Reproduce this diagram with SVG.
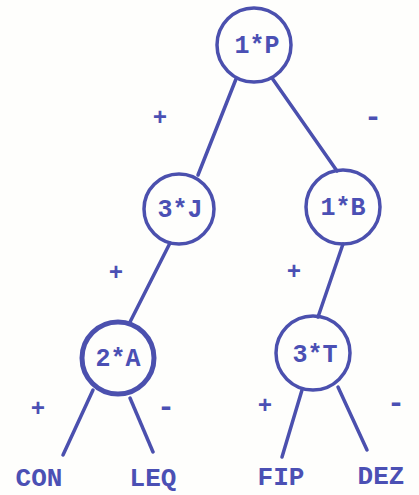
<svg xmlns="http://www.w3.org/2000/svg" width="419" height="495" viewBox="0 0 419 495">
  <style>
    .node circle { fill: none; stroke: #4b50ae; stroke-width: 3.5; }
    .node text, .leaf, .sign { font-family: "Liberation Mono", "DejaVu Sans Mono", monospace; font-weight: bold; fill: #4b50b4; text-anchor: middle; }
    .node text { font-size: 25px; }
    .leaf { font-size: 26px; }
    .sign { font-size: 24px; }
    .minus { font-size: 30px; }
    #edges line { stroke: #4b50ae; stroke-width: 3.5; stroke-linecap: round; }
  </style>
  <rect width="419" height="495" fill="#fefefc"/>

  <!-- tree edges -->
  <g id="edges">
    <line x1="236" y1="79" x2="198" y2="175"/>
    <line x1="272" y1="78" x2="337" y2="171"/>
    <line x1="170" y1="243" x2="129" y2="324"/>
    <line x1="343" y1="244" x2="318" y2="317"/>
    <line x1="93" y1="390" x2="63" y2="455"/>
    <line x1="130" y1="398" x2="153" y2="452"/>
    <line x1="302" y1="390" x2="282" y2="457"/>
    <line x1="338" y1="387" x2="367" y2="450"/>
  </g>

  <!-- branch signs -->
  <g id="signs">
    <text class="sign" x="160" y="125">+</text>
    <text class="sign minus" x="373" y="126">-</text>
    <text class="sign" x="116" y="280">+</text>
    <text class="sign" x="294" y="279">+</text>
    <text class="sign" x="38" y="416">+</text>
    <text class="sign minus" x="166" y="416">-</text>
    <text class="sign" x="265" y="413">+</text>
    <text class="sign minus" x="396" y="412">-</text>
  </g>

  <g id="n1P" class="node">
    <circle cx="254" cy="45" r="37"/>
    <text x="257" y="53">1*P</text>
  </g>
  <g id="n3J" class="node">
    <circle cx="179" cy="209" r="35"/>
    <text x="180" y="217">3*J</text>
  </g>
  <g id="n1B" class="node">
    <circle cx="343" cy="207" r="37"/>
    <text x="343" y="215">1*B</text>
  </g>
  <g id="n2A" class="node">
    <circle cx="118" cy="358" r="36" style="stroke-width:5"/>
    <text x="118" y="366">2*A</text>
  </g>
  <g id="n3T" class="node">
    <circle cx="313" cy="353" r="37"/>
    <text x="315" y="362">3*T</text>
  </g>

  <!-- leaves -->
  <g id="leafCON"><text class="leaf" x="39" y="486">CON</text></g>
  <g id="leafLEQ"><text class="leaf" x="153" y="486">LEQ</text></g>
  <g id="leafFIP"><text class="leaf" x="281" y="485">FIP</text></g>
  <g id="leafDEZ"><text class="leaf" x="381" y="484">DEZ</text></g>
</svg>
